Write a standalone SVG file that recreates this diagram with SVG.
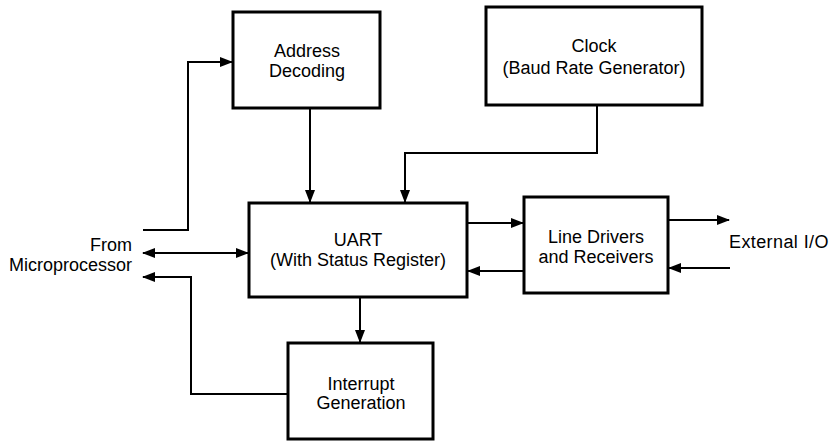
<svg xmlns="http://www.w3.org/2000/svg" width="830" height="442" viewBox="0 0 830 442">
<style>
.box{fill:#fff;stroke:#000;stroke-width:3}
.t{font-family:"Liberation Sans",Arial,sans-serif;font-size:18px;fill:#000;text-anchor:middle}
.l{font-family:"Liberation Sans",Arial,sans-serif;font-size:18px;fill:#000}
.c{fill:none;stroke:#000;stroke-width:2}
</style>
<defs>
<marker id="ah" markerUnits="userSpaceOnUse" markerWidth="13" markerHeight="10" refX="12" refY="5" orient="auto-start-reverse" viewBox="0 0 13 10">
<path d="M0,0 L13,5 L0,10 z" fill="#000"/>
</marker>
</defs>
<rect width="830" height="442" fill="#fff"/>
<g id="connectors">
<polyline class="c" points="143,230 188,230 188,62 232,62" marker-end="url(#ah)"/>
<line class="c" x1="310" y1="108" x2="310" y2="202" marker-end="url(#ah)"/>
<polyline class="c" points="597,105 597,153 405,153 405,202" marker-end="url(#ah)"/>
<line class="c" x1="143" y1="253" x2="248" y2="253" marker-start="url(#ah)" marker-end="url(#ah)"/>
<polyline class="c" points="288,394 191,394 191,277 143,277" marker-end="url(#ah)"/>
<line class="c" x1="360" y1="297" x2="360" y2="342" marker-end="url(#ah)"/>
<line class="c" x1="467" y1="223" x2="523" y2="223" marker-end="url(#ah)"/>
<line class="c" x1="524" y1="271" x2="468" y2="271" marker-end="url(#ah)"/>
<line class="c" x1="668" y1="220" x2="729" y2="220" marker-end="url(#ah)"/>
<line class="c" x1="730" y1="268" x2="669" y2="268" marker-end="url(#ah)"/>
</g>
<g id="address">
<rect class="box" x="233" y="12" width="147" height="96"/>
<text class="t" x="307" y="57">Address</text>
<text class="t" x="307" y="77">Decoding</text>
</g>
<g id="clock">
<rect class="box" x="486" y="7" width="216" height="98"/>
<text class="t" x="594" y="52">Clock</text>
<text class="t" x="594" y="74">(Baud Rate Generator)</text>
</g>
<g id="uart">
<rect class="box" x="249" y="203" width="218" height="94"/>
<text class="t" x="358" y="246">UART</text>
<text class="t" x="358" y="266">(With Status Register)</text>
</g>
<g id="linedrivers">
<rect class="box" x="524" y="197" width="144" height="96"/>
<text class="t" x="596" y="243">Line Drivers</text>
<text class="t" x="596" y="263">and Receivers</text>
</g>
<g id="interrupt">
<rect class="box" x="288" y="343" width="145" height="96"/>
<text class="t" x="361" y="390">Interrupt</text>
<text class="t" x="361" y="409">Generation</text>
</g>
<g id="microprocessor">
<text class="l" x="132" y="251" text-anchor="end">From</text>
<text class="l" x="132" y="271" text-anchor="end">Microprocessor</text>
</g>
<g id="externalio">
<text class="l" x="729" y="248" letter-spacing="0.4">External I/O</text>
</g>
</svg>
